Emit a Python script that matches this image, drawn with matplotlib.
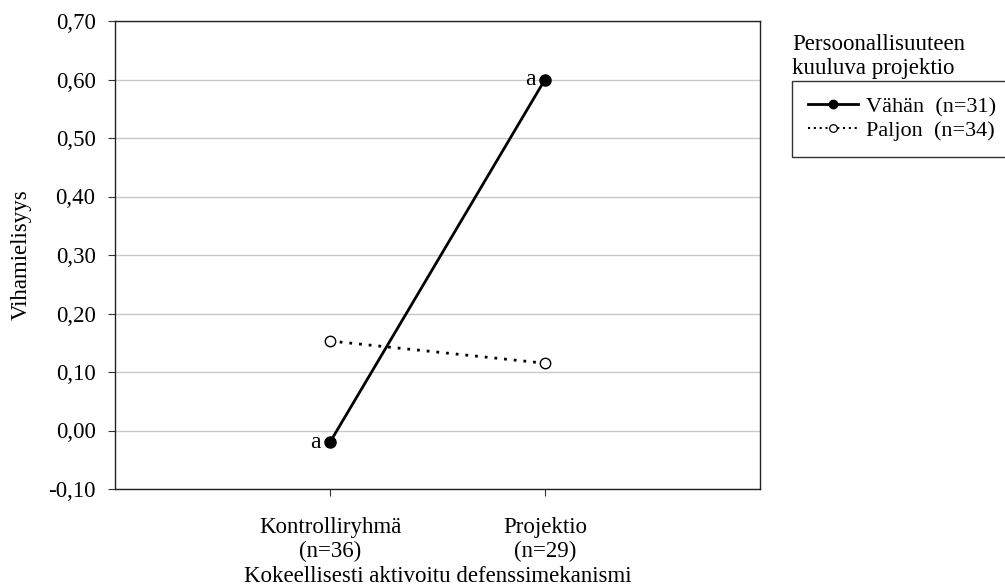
import matplotlib
matplotlib.use('Agg')
import matplotlib.pyplot as plt
from matplotlib.lines import Line2D

plt.rcParams['font.family'] = ['Liberation Serif', 'DejaVu Serif']

# data
categories = ['Kontrolliryhmä\n(n=36)', 'Projektio\n(n=29)']
vahan = [-0.02, 0.60]
paljon = [0.153, 0.115]
yticks = [-0.10, 0.0, 0.10, 0.20, 0.30, 0.40, 0.50, 0.60, 0.70]

DOTS = (0, (1, 2.5))
FS = 16.5


def main():
    fig = plt.figure(figsize=(10.05, 5.85), dpi=100)
    ax = fig.add_axes([115 / 1005, 1 - 489 / 585, 645 / 1005, 468 / 585])

    x = list(range(len(categories)))
    ax.plot(x, vahan, color='black', linewidth=2, marker='o',
            markersize=8, markerfacecolor='black', zorder=3)
    ax.plot(x, paljon, color='black', linewidth=2, linestyle=DOTS,
            marker='o', markersize=7.5, markerfacecolor='white',
            markeredgewidth=1, zorder=3)

    # significance letters
    for xi, yi in zip(x, vahan):
        ax.text(xi - 0.045, yi, 'a', ha='right', va='center', fontsize=17)

    ax.set_xlim(-1, 2)
    ax.set_ylim(-0.10, 0.70)
    ax.set_yticks(yticks)
    ax.set_yticklabels(['{:.2f}'.format(v).replace('.', ',') for v in yticks])
    ax.set_xticks(x)
    ax.set_xticklabels(categories, linespacing=1.18)
    ax.tick_params(axis='both', labelsize=FS, direction='out', length=5,
                   color='#333333')
    ax.tick_params(axis='y', pad=9)
    ax.tick_params(axis='x', pad=15)
    ax.grid(axis='y', color='#c8c8c8', linewidth=1)
    ax.set_axisbelow(True)
    for s in ax.spines.values():
        s.set_linewidth(1)
        s.set_color('#222222')

    ax.set_ylabel('Vihamielisyys', fontsize=FS, labelpad=12)
    ax.set_xlabel('Kokeellisesti aktivoitu defenssimekanismi', fontsize=FS,
                  labelpad=3)

    # legend with title outside the box, box runs off the right edge
    fig.text(792 / 1005, 1 - 34 / 585,
             'Persoonallisuuteen\nkuuluva projektio', fontsize=FS,
             ha='left', va='top', linespacing=1.18)
    handles = [
        Line2D([], [], color='black', linewidth=2, marker='o',
               markersize=6, markerfacecolor='black'),
        Line2D([], [], color='black', linewidth=1.5,
               linestyle=(0, (1, 1.8)), marker='o', markersize=5.5,
               markerfacecolor='white', markeredgewidth=0.9),
    ]
    leg = fig.legend(handles, ['Vähän  (n=31)', 'Paljon  (n=34)'],
                     loc='upper left', mode='expand',
                     bbox_to_anchor=(792 / 1005, 1 - 81 / 585, 0.24, 0),
                     fontsize=16, frameon=True, fancybox=False,
                     edgecolor='black', borderaxespad=0, handlelength=2.25,
                     handletextpad=0.4, labelspacing=0.15, borderpad=0.7)
    leg.get_frame().set_linewidth(1)

    fig.savefig('out.png', dpi=100)


if __name__ == "__main__":
    main()
